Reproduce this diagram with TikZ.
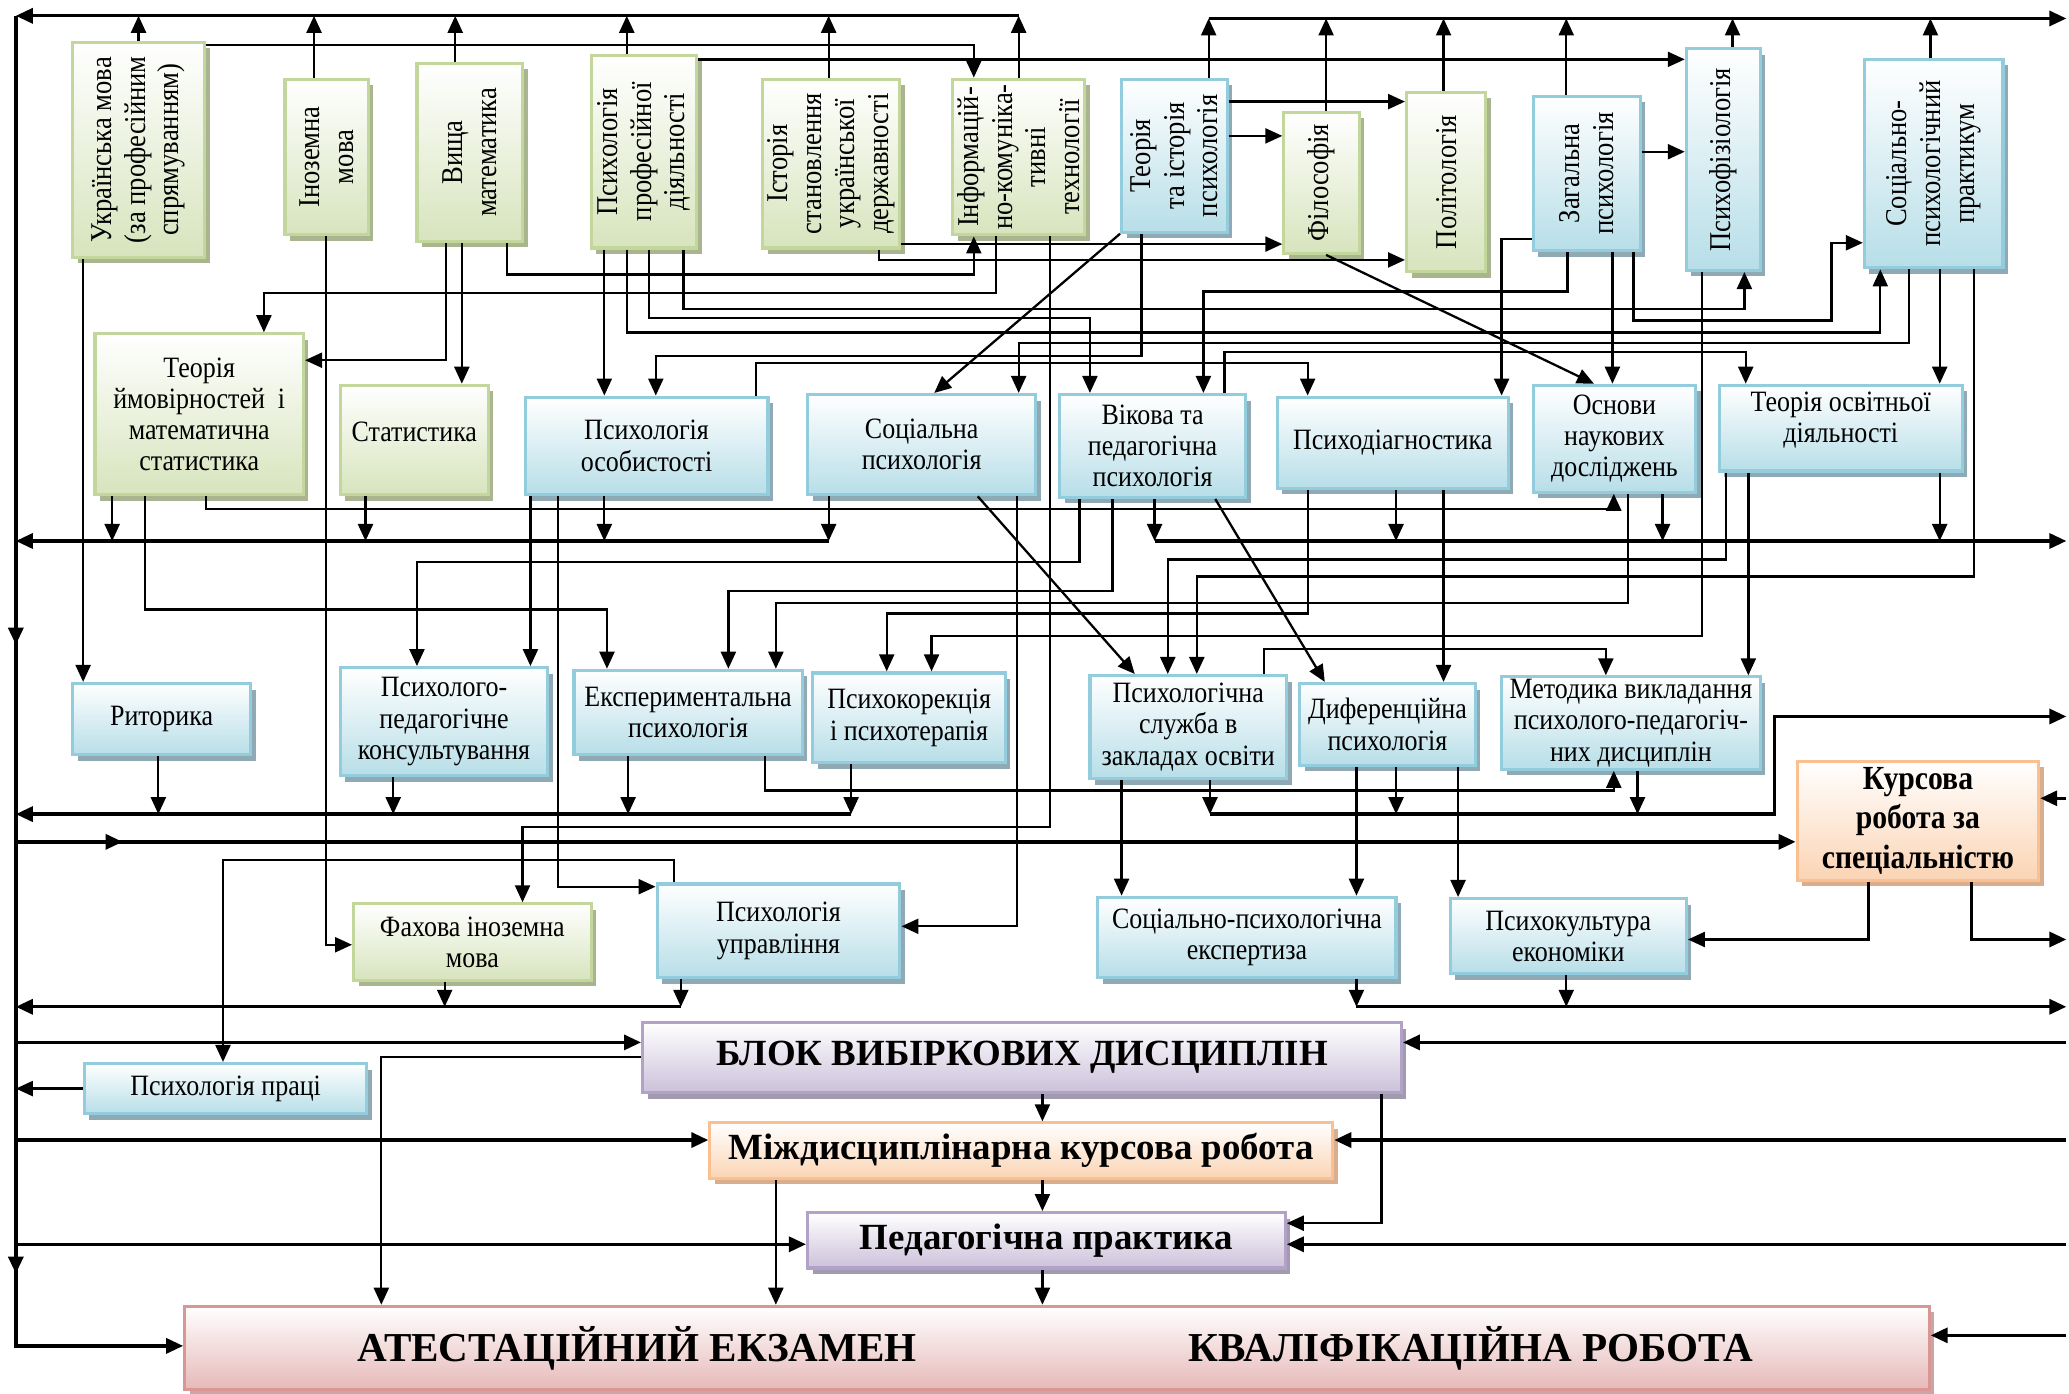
\documentclass[tikz,border=0pt]{standalone}
\usepackage{fontspec}
\setmainfont{Liberation Serif}[FakeStretch=0.88]
\newfontfamily\bfam{Liberation Serif}
\usetikzlibrary{arrows.meta,shadows,fit,decorations.markings}

\definecolor{grnB}{HTML}{D7E4BD}
\definecolor{grnL}{HTML}{C3D69B}
\definecolor{grnS}{HTML}{A9B58F}
\definecolor{bluB}{HTML}{B7DEE8}
\definecolor{bluL}{HTML}{93CDDD}
\definecolor{bluS}{HTML}{8FAAB4}
\definecolor{purB}{HTML}{CCC1DA}
\definecolor{purL}{HTML}{B3A2C7}
\definecolor{purS}{HTML}{A29AAE}
\definecolor{orgB}{HTML}{FBD4B4}
\definecolor{orgL}{HTML}{FAC08F}
\definecolor{orgS}{HTML}{D9AE8E}
\definecolor{redB}{HTML}{E6B9B8}
\definecolor{redL}{HTML}{D99694}
\definecolor{redS}{HTML}{C9A5A4}

\tikzset{
  box/.style={line width=0.9pt, inner sep=0pt, top color=white},
  gbox/.style={box, draw=grnL, bottom color=grnB,
    drop shadow={fill=grnS, opacity=1, shadow xshift=0.5mm, shadow yshift=-0.6mm}},
  bbox/.style={box, draw=bluL, bottom color=bluB,
    drop shadow={fill=bluS, opacity=1, shadow xshift=0.5mm, shadow yshift=-0.6mm}},
  pbox/.style={box, draw=purL, bottom color=purB,
    drop shadow={fill=purS, opacity=1, shadow xshift=0.5mm, shadow yshift=-0.6mm}},
  obox/.style={box, draw=orgL, bottom color=orgB,
    drop shadow={fill=orgS, opacity=1, shadow xshift=0.5mm, shadow yshift=-0.6mm}},
  rbox/.style={box, draw=redL, bottom color=redB,
    drop shadow={fill=redS, opacity=1, shadow xshift=0.5mm, shadow yshift=-0.6mm}},
  txt/.style={align=center, inner sep=0pt, font=\fontsize{8.4}{8.9}\selectfont},
  vtxt/.style={txt, rotate=90, font=\fontsize{8.6}{9.6}\selectfont},
  btxt/.style={align=center, inner sep=0pt, font=\bfam\bfseries\fontsize{10.5}{12}\selectfont},
  ln/.style={line width=0.65pt},
  arr/.style={ln, ->},
  bus/.style={line width=0.95pt},
  busarr/.style={bus, ->},
  midarr/.style={postaction={decorate},
    decoration={markings, mark=at position #1 with {\arrow{>}}}}
}

\begin{document}
\begin{tikzpicture}[x=0.13195mm, y=-0.13195mm, >={Triangle[length=1.7mm, width=1.5mm]}]
\useasboundingbox (0,0) rectangle (1568,1056);

% edges of the scheme
\coordinate (lt) at (12,12);
\coordinate (lb) at (12,1020);
\coordinate (rt) at (1566,14);
\coordinate (re) at (1566,0);
\coordinate (mb) at (0,410);
\coordinate (kb) at (0,617);
\coordinate (fb) at (0,763);

% top row
\node[gbox, fit={(55,32) (155,195)}] (ukr) {};
\node[vtxt] (ukr-t) at (ukr) {Українська мова\\(за професійним\\спрямуванням)};
\node[gbox, fit={(216,60) (279,178)}] (inoz) {};
\node[vtxt] (inoz-t) at (inoz) {Іноземна\\мова};
\node[gbox, fit={(316,48) (396,183)}] (vyshmat) {};
\node[vtxt] (vyshmat-t) at (vyshmat) {Вища\\математика};
\node[gbox, fit={(448,42) (528,188)}] (psyprof) {};
\node[vtxt] (psyprof-t) at (psyprof) {Психологія\\професійної\\діяльності};
\node[gbox, fit={(578,60) (682,188)}] (istor) {};
\node[vtxt] (istor-t) at (istor) {Історія\\становлення\\української\\державності};
\node[gbox, fit={(722,60) (822,178)}] (inform) {};
\node[vtxt] (inform-t) at (inform) {Інформацій-\\но-комуніка-\\тивні\\технології};
\node[bbox, fit={(850,60) (930,176)}] (teoriya) {};
\node[vtxt] (teoriya-t) at (teoriya) {Теорія\\та історія\\психологія};
\node[gbox, fit={(973,85) (1030,192)}] (filos) {};
\node[vtxt] (filos-t) at (filos) {Філософія};
\node[gbox, fit={(1066,70) (1126,206)}] (polit) {};
\node[vtxt] (polit-t) at (polit) {Політологія};
\node[bbox, fit={(1162,73) (1243,190)}] (zahal) {};
\node[vtxt] (zahal-t) at (zahal) {Загальна\\психологія};
\node[bbox, fit={(1278,37) (1334,205)}] (psyfiz) {};
\node[vtxt] (psyfiz-t) at (psyfiz) {Психофізіологія};
\node[bbox, fit={(1413,45) (1518,203)}] (spp) {};
\node[vtxt] (spp-t) at (spp) {Соціально-\\психологічний\\практикум};

% second row
\node[gbox, fit={(72,253) (230,375)}] (teorimov) {};
\node[txt] (teorimov-t) at (teorimov) {Теорія\\ймовірностей~~і\\математична\\статистика};
\node[gbox, fit={(258,292) (370,375)}] (statist) {};
\node[txt] (statist-t) at ([yshift=0.8mm]statist.center) {Статистика};
\node[bbox, fit={(398,301) (582,375)}] (psyos) {};
\node[txt] (psyos-t) at (psyos) {Психологія\\особистості};
\node[bbox, fit={(612,299) (785,375)}] (social) {};
\node[txt] (social-t) at (social) {Соціальна\\психологія};
\node[bbox, fit={(803,299) (944,377)}] (vikova) {};
\node[txt] (vikova-t) at (vikova) {Вікова та\\педагогічна\\психологія};
\node[bbox, fit={(968,301) (1143,370)}] (diagn) {};
\node[txt] (diagn-t) at (diagn) {Психодіагностика};
\node[bbox, fit={(1162,292) (1285,373)}] (osnovy) {};
\node[txt] (osnovy-t) at (osnovy) {Основи\\наукових\\досліджень};
\node[bbox, fit={(1303,292) (1487,357)}] (teorosv) {};
\node[txt] (teorosv-t) at ([yshift=0.8mm]teorosv.center) {Теорія освітньої\\діяльності};

% third row
\node[bbox, fit={(55,518) (190,572)}] (ryt) {};
\node[txt] (ryt-t) at (ryt) {Риторика};
\node[bbox, fit={(258,506) (415,588)}] (ppk) {};
\node[txt] (ppk-t) at (ppk) {Психолого-\\педагогічне\\консультування};
\node[bbox, fit={(435,508) (608,572)}] (exper) {};
\node[txt] (exper-t) at (exper) {Експериментальна\\психологія};
\node[bbox, fit={(616,510) (762,578)}] (psykor) {};
\node[txt] (psykor-t) at (psykor) {Психокорекція\\і психотерапія};
\node[bbox, fit={(826,512) (975,590)}] (sluzh) {};
\node[txt] (sluzh-t) at (sluzh) {Психологічна\\служба в\\закладах освіти};
\node[bbox, fit={(985,518) (1118,580)}] (dyfer) {};
\node[txt] (dyfer-t) at (dyfer) {Диференційна\\психологія};
\node[bbox, fit={(1138,513) (1334,583)}] (metod) {};
\node[txt] (metod-t) at (metod) {Методика викладання\\психолого-педагогіч-\\них дисциплін};
\node[obox, fit={(1362,577) (1545,667)}] (kurs) {};
\node[txt, font=\bfseries\fontsize{9.6}{11.2}\selectfont] (kurs-t) at (kurs) {Курсова\\робота за\\спеціальністю};

% fourth row
\node[gbox, fit={(268,685) (448,743)}] (fakh) {};
\node[txt] (fakh-t) at (fakh) {Фахова іноземна\\мова};
\node[bbox, fit={(498,670) (682,741)}] (upr) {};
\node[txt] (upr-t) at (upr) {Психологія\\управління};
\node[bbox, fit={(832,680) (1058,741)}] (expert) {};
\node[txt] (expert-t) at (expert) {Соціально-психологічна\\експертиза};
\node[bbox, fit={(1099,681) (1278,738)}] (psykult) {};
\node[txt] (psykult-t) at (psykult) {Психокультура\\економіки};

% final blocks
\node[bbox, fit={(64,806) (278,844)}] (praci) {};
\node[txt] (praci-t) at (praci) {Психологія праці};
\node[pbox, fit={(487,775) (1062,828)}] (blok) {};
\node[btxt] (blok-t) at (blok) {БЛОК ВИБІРКОВИХ ДИСЦИПЛІН};
\node[obox, fit={(538,851) (1010,893)}] (mizh) {};
\node[btxt] (mizh-t) at (mizh) {Міждисциплінарна курсова робота};
\node[pbox, fit={(612,919) (974,961)}] (prakt) {};
\node[btxt] (prakt-t) at (prakt) {Педагогічна практика};
\node[rbox, fit={(140,990) (1462,1053)}] (atest) {};
\node[btxt, font=\bfam\bfseries\fontsize{11.7}{13}\selectfont] (atest-a) at (atest -| 483,0) {АТЕСТАЦІЙНИЙ ЕКЗАМЕН};
\node[btxt, font=\bfam\bfseries\fontsize{11.7}{13}\selectfont] (atest-b) at (atest -| 1115,0) {КВАЛІФІКАЦІЙНА РОБОТА};

% upper buses
\draw[busarr] (lt -| 772,0) -- (lt);
\draw[busarr] (rt -| 916,0) -- (rt);
\foreach \b/\x in {ukr/105, inoz/238, vyshmat/345, psyprof/475, istor/628, inform/772}
  \draw[arr] (\b.north -| \x,0) -- (lt -| \x,0);
\foreach \b/\x in {teoriya/916, filos/1005, polit/1094, zahal/1187, psyfiz/1313, spp/1463}
  \draw[arr] (\b.north -| \x,0) -- (rt -| \x,0);

% links among the top row
\draw[arr] (ukr.east |- 0,34) -| (inform.north -| 738,0);
\draw[arr] (psyprof.east |- 0,45) -- (psyfiz.west |- 0,45);
\draw[arr] (teoriya.east |- 0,77) -- (polit.west |- 0,77);
\draw[arr] (teoriya.east |- 0,103) -- (filos.west |- 0,103);
\draw[arr] (zahal.east |- 0,115) -- (psyfiz.west |- 0,115);
\draw[arr] (istor.east |- 0,185) -- (filos.west |- 0,185);
\draw[arr] (istor.south -| 666,0) |- (polit.west |- 0,197);
\draw[arr] (vyshmat.south -| 384,0) -- (384,208) -| (inform.south -| 738,0);

% top row to second row
\draw[arr] (inform.south -| 755,0) -- (755,222) -| (teorimov.north -| 200,0);
\draw[arr] (vyshmat.south -| 338,0) |- (teorimov.east |- 0,273);
\draw[arr] (vyshmat.south -| 350,0) -- (statist.north -| 350,0);
\draw[arr] (ukr.south -| 63,0) -- (ryt.north -| 63,0);
\draw[arr] (inoz.south -| 247,0) |- (fakh.west |- 0,716);
\draw[arr] (psyprof.south -| 458,0) -- (psyos.north -| 458,0);
\draw[arr] (psyprof.south -| 475,0) -- (475,252) -| (spp.south -| 1425,0);
\draw[arr] (psyprof.south -| 492,0) -- (492,241) -| (vikova.north -| 826,0);
\draw[arr] (psyprof.south -| 518,0) -- (518,234) -| (psyfiz.south -| 1322,0);
\draw[arr] (teoriya.south -| 865,0) -- (865,270) -| (psyos.north -| 497,0);
\draw[arr] (spp.south -| 1447,0) -- (1447,260) -| (social.north -| 772,0);
\draw[arr] (teoriya.south west) -- (social.north -| 708,0);
\draw[arr] (psyos.north -| 573,0) -- (573,275) -| (diagn.north -| 991,0);
\draw[arr] (vikova.north -| 928,0) -- (928,267) -| (teorosv.north -| 1323,0);
\draw[arr] (zahal.south -| 1188,0) -- (1188,221) -| (vikova.north -| 912,0);
\draw[arr] (zahal.west |- 0,181) -| (diagn.north -| 1138,0);
\draw[arr] (zahal.south -| 1222,0) -- (osnovy.north -| 1222,0);
\draw[arr] (zahal.south -| 1238,0) |- (1388,243) |- (spp.west |- 0,184);
\draw[arr] (filos.south -| 1005,0) -- (osnovy.north -| 1208,0);
\draw[arr] (spp.south -| 1470,0) -- (teorosv.north -| 1470,0);
\draw[arr] (spp.south -| 1496,0) -- (1496,437) -| (sluzh.north -| 907,0);
\draw[arr] (teorosv.south -| 1308,0) -- (1308,424) -| (sluzh.north -| 885,0);
\draw[arr] (psyfiz.south -| 1290,0) -- (1290,482) -| (psykor.north -| 706,0);
\draw[arr] (inform.south -| 796,0) -- (796,627) -| (fakh.north -| 396,0);

% middle bus
\draw[busarr] (628,0 |- mb) -- (lt |- mb);
\draw[busarr] (875,0 |- mb) -- (re |- mb);
\foreach \b/\x in {teorimov/85, statist/277, psyos/458, social/628,
                   vikova/875, diagn/1058, osnovy/1260, teorosv/1470}
  \draw[arr] (\b.south -| \x,0) -- (\x,0 |- mb);

% second row to third row
\draw[arr] (teorimov.south -| 110,0) -- (110,462) -| (exper.north -| 460,0);
\draw[arr] (teorimov.south -| 156,0) -- (156,386) -| (osnovy.south -| 1223,0);
\draw[arr] (psyos.south -| 402,0) -- (ppk.north -| 402,0);
\draw[arr] (psyos.south -| 423,0) |- (upr.west |- 0,672);
\draw[arr] (social.south -| 741,0) -- (sluzh.north -| 860,0);
\draw[arr] (social.south -| 771,0) |- (upr.east |- 0,702);
\draw[arr] (vikova.south -| 818,0) -- (818,426) -| (ppk.north -| 316,0);
\draw[arr] (vikova.south -| 843,0) -- (843,448) -| (exper.north -| 552,0);
\draw[arr] (vikova.south -| 921,0) -- (dyfer.north -| 1004,0);
\draw[arr] (diagn.south -| 991,0) -- (991,465) -| (psykor.north -| 672,0);
\draw[arr] (diagn.south -| 1094,0) -- (dyfer.north -| 1094,0);
\draw[arr] (osnovy.south -| 1234,0) -- (1234,457) -| (exper.north -| 588,0);
\draw[arr] (teorosv.south -| 1325,0) -- (metod.north -| 1325,0);
\draw[arr] (sluzh.north -| 958,0) -- (958,492) -| (metod.north -| 1217,0);
\draw[arr] (exper.south -| 580,0) -- (580,599) -| (metod.south -| 1223,0);

% lower buses
\draw[busarr] (645,0 |- kb) -- (lt |- kb);
\draw[busarr] (917,0 |- kb) -| (1345,543) -- (re |- 0,543);
\foreach \b/\x in {ryt/120, ppk/298, exper/476, psykor/645, sluzh/917, dyfer/1058, metod/1241}
  \draw[arr] (\b.south -| \x,0) -- (\x,0 |- kb);
\draw[busarr, midarr=0.06] (lt |- 0,638) -- (kurs.west |- 0,638);
\draw[busarr] (re |- 0,605) -- (kurs.east |- 0,605);
\draw[arr] (kurs.south -| 1416,0) |- (psykult.east |- 0,712);
\draw[busarr] (kurs.south -| 1494,0) |- (re |- 0,712);

% third row to fourth row
\draw[arr] (sluzh.south -| 850,0) -- (expert.north -| 850,0);
\draw[arr] (dyfer.south -| 1028,0) -- (expert.north -| 1028,0);
\draw[arr] (dyfer.south -| 1105,0) -- (psykult.north -| 1105,0);
\draw[arr] (upr.north -| 511,0) -- (511,652) -| (praci.north -| 169,0);

\draw[busarr] (516,0 |- fb) -- (lt |- fb);
\draw[busarr] (1028,0 |- fb) -- (re |- fb);
\foreach \b/\x in {fakh/337, upr/516, expert/1028, psykult/1187}
  \draw[arr] (\b.south -| \x,0) -- (\x,0 |- fb);

% final blocks
\draw[busarr, postaction={decorate}, decoration={markings,
    mark=at position 0.42 with {\arrow{>}}, mark=at position 0.84 with {\arrow{>}}}]
  (lt) -- (lb) -- (atest.west |- lb);
\draw[arr] (praci.west) -- (lt |- praci.west);
\draw[busarr] (lt |- 0,790) -- (blok.west |- 0,790);
\draw[busarr] (re |- 0,790) -- (blok.east |- 0,790);
\draw[busarr] (lt |- 0,864) -- (mizh.west |- 0,864);
\draw[busarr] (re |- 0,864) -- (mizh.east |- 0,864);
\draw[busarr] (lt |- 0,943) -- (prakt.west |- 0,943);
\draw[busarr] (re |- 0,943) -- (prakt.east |- 0,943);
\draw[busarr] (re |- 0,1012) -- (atest.east |- 0,1012);
\draw[arr] (blok.south -| 790,0) -- (mizh.north -| 790,0);
\draw[arr] (mizh.south -| 790,0) -- (prakt.north -| 790,0);
\draw[arr] (prakt.south -| 790,0) -- (atest.north -| 790,0);
\draw[arr] (mizh.south -| 588,0) -- (atest.north -| 588,0);
\draw[arr] (blok.west |- 0,801) -| (atest.north -| 289,0);
\draw[arr] (blok.south -| 1047,0) |- (prakt.east |- 0,927);
\end{tikzpicture}
\end{document}
